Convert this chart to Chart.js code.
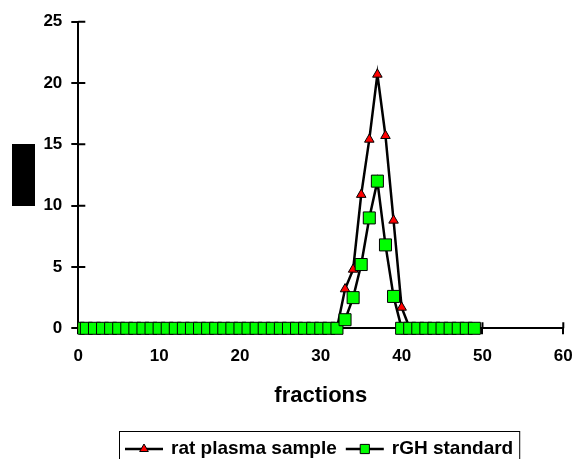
<!DOCTYPE html>
<html>
<head>
<meta charset="utf-8">
<script src="https://cdn.jsdelivr.net/npm/chart.js@4.4.1/dist/chart.umd.min.js"></script>
<style>
    html, body { margin: 0; padding: 0; background: #ffffff; }
    #contenedor { width: 575px; height: 459px; }
</style>
</head>
<body>
<div id="contenedor"><canvas id="grafica"></canvas></div>
<script>
// fracciones recogidas
const fracciones = [0,1,2,3,4,5,6,7,8,9,10,11,12,13,14,15,16,17,18,19,20,21,22,23,24,25,26,27,28,29,30,31,32,33,34,35,36,37,38,39,40,41,42,43,44,45,46,47,48,49];
// muestra de plasma de rata
const datos_rata = [0,0,0,0,0,0,0,0,0,0,0,0,0,0,0,0,0,0,0,0,0,0,0,0,0,0,0,0,0,0,0,0,0,3.2,4.8,10.9,15.4,20.7,15.7,8.8,1.7,0,0,0,0,0,0,0,0,0];
// estandar rGH
const datos_rgh = [0,0,0,0,0,0,0,0,0,0,0,0,0,0,0,0,0,0,0,0,0,0,0,0,0,0,0,0,0,0,0,0,0,0.7,2.5,5.2,9.0,12.0,6.8,2.6,0,0,0,0,0,0,0,0,0,0];
const etiquetas_series = ['rat plasma sample', 'rGH standard'];
const ticks_x = [0, 60, 10];
const ticks_y = [0, 25, 5];

const fuente = '"Liberation Sans", Arial, sans-serif';

const puntos = (valores) => fracciones.map((f, i) => ({x: f, y: valores[i]}));

// marcas que cruzan los ejes hacia dentro + rectangulo del titulo del eje y
const marcas_internas = {
    id: 'marcas_internas',
    beforeDatasetsDraw(chart) {
        const ctx = chart.ctx, area = chart.chartArea;
        const ex = chart.scales.x, ey = chart.scales.y;
        ctx.save();
        ctx.strokeStyle = '#000';
        ctx.lineWidth = 2;
        ctx.beginPath();
        ey.ticks.forEach(t => {
            const py = ey.getPixelForValue(t.value);
            ctx.moveTo(area.left, py);
            ctx.lineTo(area.left + 7, py);
        });
        ex.ticks.forEach(t => {
            const px = ex.getPixelForValue(t.value);
            ctx.moveTo(px, area.bottom);
            ctx.lineTo(px, area.bottom - 6);
        });
        ctx.stroke();
        ctx.fillStyle = '#000';
        const cy = (area.top + area.bottom) / 2;
        ctx.fillRect(12, cy - 31, 23, 62);
        ctx.restore();
    }
};

// leyenda con recuadro, linea y marcador
const leyenda = {
    id: 'leyenda',
    afterDraw(chart) {
        const ctx = chart.ctx, area = chart.chartArea;
        ctx.save();
        ctx.font = 'bold 19px ' + fuente;
        const linea = 38, hueco = 8, sep = 9, margen = 6;
        const sets = chart.data.datasets;
        const anchos = sets.map(d => ctx.measureText(d.label).width);
        const total = margen * 2 + anchos.reduce((a, w) => a + linea + hueco + w, 0) + sep * (sets.length - 1);
        const x0 = Math.round((area.left + area.right) / 2 - 2 - total / 2);
        const arriba = 431.5, yl = 449;
        ctx.strokeStyle = '#000';
        ctx.lineWidth = 1;
        ctx.strokeRect(x0 + 0.5, arriba, total, 34);
        let x = x0 + margen;
        sets.forEach((d, i) => {
            ctx.strokeStyle = '#000';
            ctx.lineWidth = 2.5;
            ctx.beginPath();
            ctx.moveTo(x, yl);
            ctx.lineTo(x + linea, yl);
            ctx.stroke();
            ctx.fillStyle = d.pointBackgroundColor;
            ctx.lineWidth = 1;
            Chart.helpers.drawPoint(ctx, {
                pointStyle: d.pointStyle,
                radius: d.pointStyle === 'rect' ? 6.5 : 5,
                rotation: 0,
                borderWidth: 1
            }, x + linea / 2, yl);
            ctx.fillStyle = '#000';
            ctx.textBaseline = 'alphabetic';
            ctx.textAlign = 'left';
            ctx.fillText(d.label, x + linea + hueco, 453.5);
            x += linea + hueco + anchos[i] + sep;
        });
        ctx.restore();
    }
};

new Chart(document.getElementById('grafica'), {
    type: 'line',
    plugins: [marcas_internas, leyenda],
    data: {
        datasets: [
            {
                label: etiquetas_series[0],
                data: puntos(datos_rata),
                borderColor: '#000000',
                borderWidth: 2.5,
                pointStyle: 'triangle',
                pointRadius: 5.5,
                pointBackgroundColor: '#ff0000',
                pointBorderColor: '#000000',
                pointBorderWidth: 1,
                tension: 0,
                clip: { left: 0, top: false, right: false, bottom: false },
                order: 2
            },
            {
                label: etiquetas_series[1],
                data: puntos(datos_rgh),
                borderColor: '#000000',
                borderWidth: 2.5,
                pointStyle: 'rect',
                pointRadius: 8.5,
                pointBackgroundColor: '#00ff00',
                pointBorderColor: '#000000',
                pointBorderWidth: 1,
                tension: 0,
                clip: { left: 0, top: false, right: false, bottom: false },
                order: 1
            }
        ]
    },
    options: {
        responsive: true,
        maintainAspectRatio: false,
        animation: false,
        events: [],
        layout: { padding: { top: 21.7, right: 11.7, bottom: 47, left: 0 } },
        plugins: {
            legend: { display: false },
            tooltip: { enabled: false }
        },
        scales: {
            x: {
                type: 'linear',
                min: ticks_x[0], max: ticks_x[1],
                ticks: { stepSize: ticks_x[2], color: '#000', padding: 12, font: { family: fuente, size: 17, weight: 'bold' } },
                grid: { drawOnChartArea: false, color: '#000', lineWidth: 2, tickLength: 6 },
                border: { color: '#000', width: 2 },
                title: { display: true, text: 'fractions', color: '#000', font: { family: fuente, size: 22, weight: 'bold' }, padding: { top: 4, bottom: 3 } },
                afterFit: (s) => { s.height = 83.7; s.paddingLeft = 0; s.paddingRight = 0; }
            },
            y: {
                min: ticks_y[0], max: ticks_y[1],
                ticks: { stepSize: ticks_y[2], color: '#000', padding: 9, font: { family: fuente, size: 17, weight: 'bold' } },
                grid: { drawOnChartArea: false, color: '#000', lineWidth: 2, tickLength: 7 },
                border: { color: '#000', width: 2 },
                afterFit: (s) => { s.width = 78.3; }
            }
        }
    }
});
</script>
</body>
</html>
